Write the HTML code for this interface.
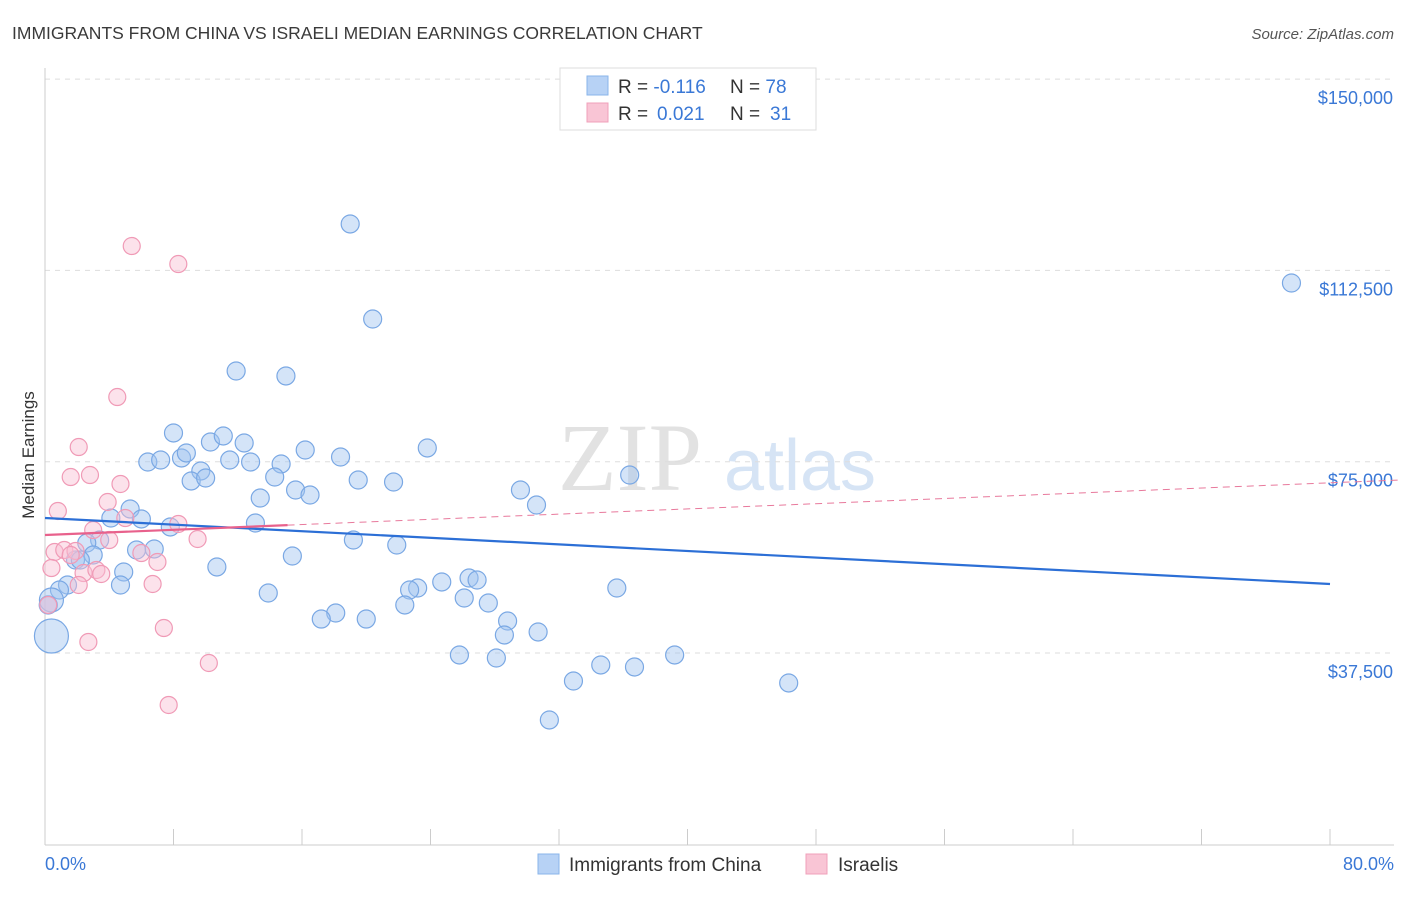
<!DOCTYPE html>
<html><head><meta charset="utf-8"><style>
body{margin:0;background:#fff;font-family:"Liberation Sans",sans-serif;}
</style></head><body>
<svg id="c" width="1406" height="892" xmlns="http://www.w3.org/2000/svg">
<text x="12" y="39" font-size="17.5" fill="#3a3a3a">IMMIGRANTS FROM CHINA VS ISRAELI MEDIAN EARNINGS CORRELATION CHART</text>
<text x="1394" y="39" font-size="15" fill="#555" font-style="italic" text-anchor="end">Source: ZipAtlas.com</text>
<text x="630" y="490" font-size="96" fill="#e2e2e2" font-family="Liberation Serif,serif" text-anchor="middle">ZIP</text>
<text x="800" y="490" font-size="72" fill="#d6e4f5" text-anchor="middle">atlas</text>
<text x="34" y="455" font-size="17" fill="#333" text-anchor="middle" transform="rotate(-90 34 455)">Median Earnings</text>
<g id="grid"></g><g id="marks"></g>
<g>
<rect x="560" y="68" width="256" height="62" fill="#fff" stroke="#ddd"/>
<rect x="587" y="76" width="21" height="19" fill="#b7d2f5" stroke="#8ab4ea"/>
<rect x="587" y="103" width="21" height="19" fill="#f9c5d5" stroke="#f0a0ba"/>
<text x="618" y="93" font-size="19" fill="#333">R = <tspan fill="#3a78d6">-0.116</tspan><tspan x="730">N = </tspan><tspan fill="#3a78d6">78</tspan></text>
<text x="618" y="120" font-size="19" fill="#333">R = <tspan fill="#3a78d6" x="657">0.021</tspan><tspan x="730">N = </tspan><tspan fill="#3a78d6" x="770">31</tspan></text>
</g>
<g>
<rect x="538" y="854" width="21" height="20" fill="#b7d2f5" stroke="#8ab4ea"/>
<text x="569" y="871" font-size="19" fill="#333">Immigrants from China</text>
<rect x="806" y="854" width="21" height="20" fill="#f9c5d5" stroke="#f0a0ba"/>
<text x="838" y="871" font-size="19" fill="#333">Israelis</text>
</g>
<text x="45" y="870" font-size="18" fill="#3a78d6">0.0%</text>
<text x="1394" y="870" font-size="18" fill="#3a78d6" text-anchor="end">80.0%</text>
</svg>
<script>
const yTicks=[37500,75000,112500,150000];
const yTickLabels=["$37,500","$75,000","$112,500","$150,000"];
const xTicks=[0,8,16,24,32,40,48,56,64,72,80];
const chinaX=[19.0,20.4,77.6,11.9,15.0,8.0,10.3,11.1,12.4,8.5,8.8,6.4,7.2,9.7,11.5,12.8,14.7,16.2,18.4,23.8,36.4,9.1,10.0,14.3,19.5,21.7,13.4,15.6,16.5,29.6,30.6,5.3,4.1,6.0,7.8,13.1,19.2,21.9,3.4,2.6,1.9,3.0,2.2,5.7,6.8,15.4,10.7,4.9,1.4,4.7,0.9,0.4,0.2,13.9,24.7,23.2,26.4,26.9,26.1,22.7,22.4,27.6,35.6,18.1,17.2,20.0,28.8,28.6,30.7,0.4,25.8,28.1,34.6,36.7,39.2,32.9,46.3,31.4];
const chinaY=[121600,102970,110030,92780,91800,80630,78860,80040,78670,75730,76710,74940,75330,73180,75330,74940,74550,77290,75920,77690,72390,71220,71800,72000,71410,71020,67880,69450,68470,69450,66510,65730,63960,63770,62200,62980,59650,58670,59650,59060,55730,56710,55730,57690,57890,56510,54360,53380,50830,50830,49850,47890,46910,49260,51420,50240,52200,51810,48280,49850,46910,47300,50240,45340,44160,44160,43770,41030,41620,40830,37110,36520,35150,34760,37110,32010,31620,24370];
const chinaR=[];for(let i=0;i<chinaX.length;i++)chinaR.push(9);
chinaR[51]=12;chinaR[69]=17;
const israelX=[5.4,8.3,4.5,2.1,1.6,2.8,3.9,4.7,0.8,5.0,3.0,4.0,8.3,9.5,0.6,1.2,1.9,1.6,6.0,7.0,0.4,2.4,3.2,3.5,2.1,6.7,0.2,7.4,2.7,10.2,7.7];
const israelY=[117280,113750,87680,77880,72000,72390,67100,70630,65340,63960,61610,59650,62790,59850,57300,57690,57500,56710,57100,55340,54160,53180,53770,52990,50830,51030,46910,42400,39660,35540,27310];
const chinaTrend=[63960,51030];
const israelTrend=[60630,71410];
const israelSolidEnd=15.1, israelDashEnd=84.3;
const NS="http://www.w3.org/2000/svg";
const X=p=>45+p*(1285/80), Y=v=>653-(v-37500)*(191.3/37500);
function mk(t,a,p){const e=document.createElementNS(NS,t);for(const k in a)e.setAttribute(k,a[k]);p.appendChild(e);return e;}
const g=document.getElementById('grid'),m=document.getElementById('marks');
yTicks.forEach((v,i)=>{
 const l=mk('line',{x1:45,x2:1394,y1:Y(v),y2:Y(v),stroke:'#ddd','stroke-dasharray':'5,5'},g);
 
 
 const t=mk('text',{x:1393,y:Y(v)+25,'font-size':18,fill:'#3a78d6','text-anchor':'end'},g);t.textContent=yTickLabels[i];
 
 
});
const ax=mk('line',{x1:45,x2:45,y1:68,y2:845,stroke:'#ccc'},g);


const bx=mk('line',{x1:45,x2:1394,y1:845,y2:845,stroke:'#ccc'},g);


xTicks.forEach(p=>{const t=mk('line',{x1:X(p),x2:X(p),y1:829,y2:845,stroke:'#ccc'},g);
 
 });
chinaX.forEach((p,i)=>{const c=mk('circle',{cx:X(p),cy:Y(chinaY[i]),r:chinaR[i],fill:'rgba(160,196,240,0.45)',stroke:'#7aa8e4','stroke-width':1.2},m);
 
 });
israelX.forEach((p,i)=>{const c=mk('circle',{cx:X(p),cy:Y(israelY[i]),r:8.5,fill:'rgba(248,190,210,0.45)',stroke:'#f09ab6','stroke-width':1.2},m);
 
 });
const tl=mk('line',{x1:X(0),y1:Y(chinaTrend[0]),x2:X(80),y2:Y(chinaTrend[1]),stroke:'#2c6fd6','stroke-width':2.2},m);


const isl=(israelTrend[1]-israelTrend[0])/israelDashEnd;
const pd=mk('line',{x1:X(israelSolidEnd),y1:Y(israelTrend[0]+isl*israelSolidEnd),x2:X(israelDashEnd),y2:Y(israelTrend[1]),stroke:'#e8799c','stroke-width':1,'stroke-dasharray':'7,5'},m);


const ps=mk('line',{x1:X(0),y1:Y(israelTrend[0]),x2:X(israelSolidEnd),y2:Y(israelTrend[0]+isl*israelSolidEnd),stroke:'#e8618c','stroke-width':2.2},m);


</script>
</body></html>
